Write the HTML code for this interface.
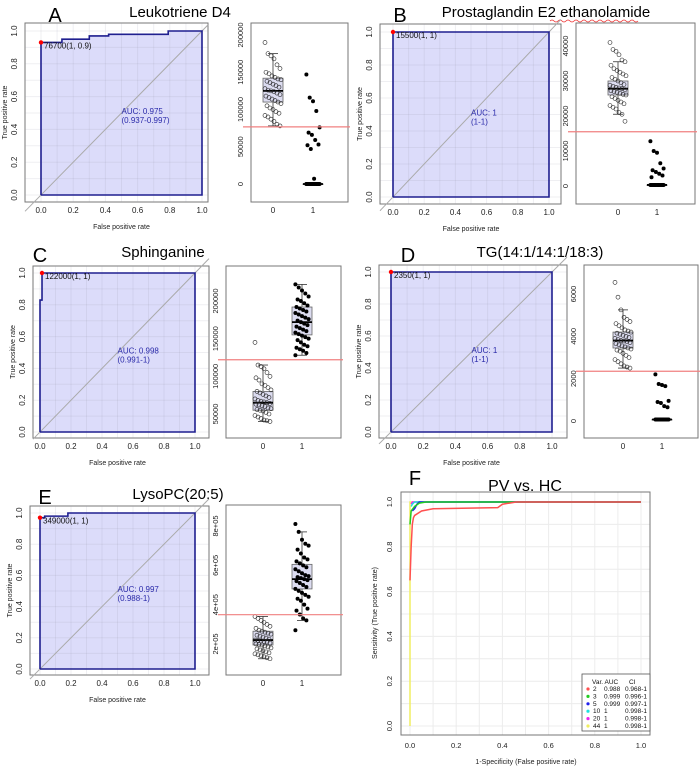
<!DOCTYPE html>
<html><head><meta charset="utf-8"><style>
body{margin:0;background:#fff;width:700px;height:767px;overflow:hidden}
svg{display:block;font-family:"Liberation Sans",sans-serif}
</style></head><body>
<svg id="fig" width="700" height="767"></svg>
<script>
// ---- ROC data ----
const rocA_fpr=[0,0,0.13,0.13,0.3,0.3,0.42,0.42,0.79,0.79,1];
const rocA_tpr=[0,0.93,0.93,0.95,0.95,0.97,0.97,0.98,0.98,1,1];
const rocB_fpr=[0,0,1];const rocB_tpr=[0,1,1];
const rocC_fpr=[0,0,0.013,0.013,1];const rocC_tpr=[0,0.83,0.83,1,1];
const rocD_fpr=[0,0,1];const rocD_tpr=[0,1,1];
const rocE_fpr=[0,0,0.03,0.03,0.18,0.18,1];const rocE_tpr=[0,0.97,0.97,0.98,0.98,1,1];
const bestPoints=[[0,0.93],[0,1],[0.013,1],[0,1],[0,0.97]];
const bestLabels=["76700(1, 0.9)","15500(1, 1)","122000(1, 1)","2350(1, 1)","349000(1, 1)"];
const aucLabels=[["AUC: 0.975","(0.937-0.997)"],["AUC: 1","(1-1)"],["AUC: 0.998","(0.991-1)"],["AUC: 1","(1-1)"],["AUC: 0.997","(0.988-1)"]];
const rocTicks=[0,0.2,0.4,0.6,0.8,1.0];
// ---- Box data ----
const boxA_g0=[190000,175000,172000,168000,160000,155000,150000,148000,145000,143000,141000,140000,138000,136000,134000,132000,130000,128000,126000,125000,124000,122000,120000,118000,116000,114000,112000,110000,108000,105000,102000,100000,97000,95000,92000,90000,87000,84000,80000,78000];
const boxA_g1=[147000,116000,111000,98000,76000,69000,66000,59000,53000,52000,47000,7000,0,0,0,0,0,0,0,0,0,0,0,0,0,0,0];
const boxB_g0=[41000,39000,38500,37500,36000,35500,34500,33500,33000,32500,32000,31500,31000,30500,30000,29500,29000,28800,28500,28200,28000,27800,27500,27200,27000,26800,26500,26200,26000,25500,25000,24500,24000,23500,23000,22500,22000,21000,20500,18500];
const boxB_g1=[12800,10000,9500,6500,5000,4500,4000,3500,3000,2500,300,300,300,300,300,300,300,300,300,300,300,300,300,300,300];
const boxC_g0=[145000,115000,113000,110000,105000,100000,98000,95000,90000,88000,85000,82000,80000,78000,76000,74000,72000,70000,68000,67000,66000,65000,64000,63000,62000,61000,60000,58000,57000,56000,55000,54000,52000,50000,48000,46000,44000,42000,41000,40000];
const boxC_g1=[222000,218000,214000,210000,206000,202000,200000,197000,194000,192000,190000,188000,186000,184000,182000,180000,178000,176000,174000,172000,170000,168000,166000,164000,162000,160000,158000,156000,154000,152000,150000,148000,145000,142000,140000,138000,136000,134000,131000,128000];
const boxD_g0=[6550,5850,5250,4900,4800,4700,4600,4500,4400,4300,4250,4200,4150,4100,4050,4000,3950,3900,3850,3800,3780,3750,3700,3650,3600,3550,3500,3450,3400,3350,3300,3200,3100,3000,2900,2800,2700,2600,2550,2500];
const boxD_g1=[2200,1750,1700,1650,950,900,850,700,650,70,70,70,70,70,70,70,70,70,70,70,70,70,70,70,70];
const boxE_g0=[340000,330000,320000,310000,300000,290000,280000,270000,265000,260000,255000,250000,245000,240000,235000,230000,225000,220000,218000,215000,212000,210000,205000,200000,198000,195000,190000,185000,180000,175000,170000,165000,160000,155000,150000,145000,140000,135000,130000,125000];
const boxE_g1=[810000,770000,730000,710000,700000,680000,660000,640000,630000,620000,610000,600000,590000,580000,570000,560000,550000,545000,540000,535000,530000,525000,520000,510000,500000,490000,480000,470000,460000,450000,440000,430000,420000,400000,380000,370000,350000,330000,320000,270000];
// stats: [lo,q1,med,q3,hi]
const statsA=[[78000,110000,125000,142000,175000],[0,0,0,0,0]];
const statsB=[[20500,26000,27800,30000,35500],[300,300,300,300,300]];
const statsC=[[40000,55000,65000,80000,115000],[128000,155000,172000,192000,222000]];
const statsD=[[2500,3450,3800,4200,5250],[70,70,70,70,70]];
const statsE=[[125000,195000,220000,265000,340000],[320000,480000,530000,605000,770000]];
const thresholds=[76700,15500,122000,2350,349000];
const ticksA=[0,50000,100000,150000,200000];
const ticksB=[0,10000,20000,30000,40000];
const ticksC=[50000,100000,150000,200000];
const ticksD=[0,2000,4000,6000];
const ticksE=[200000,400000,600000,800000];
const tickLabE=["2e+05","4e+05","6e+05","8e+05"];
const titles=["Leukotriene D4","Prostaglandin E2 ethanolamide","Sphinganine","TG(14:1/14:1/18:3)","LysoPC(20:5)"];
const letters=["A","B","C","D","E"];
// ---- PV vs HC ----
const fVars=["2","3","5","10","20","44"];
const fAUC=["0.988","0.999","0.999","1","1","1"];
const fCI=["0.968-1","0.996-1","0.997-1","0.998-1","0.998-1","0.998-1"];
const fColors=["#ff5050","#22cc22","#2020ee","#22e0e0","#ee22ee","#f0ee60"];
const fX=[[0,0.005,0.01,0.015,0.02,0.05,0.1,0.38,0.4,0.46,1],[0,0.005,0.02,0.04,0.07,1],[0.01,0.02,0.03,0.04,1],[0.005,0.01,0.02,1],[0.005,0.01,0.015,1],[0,0,1]];
const fY=[[0.65,0.8,0.9,0.93,0.94,0.96,0.97,0.975,0.99,1,1],[0.9,0.96,0.98,0.995,1,1],[0.96,0.97,0.99,1,1],[0.98,0.99,1,1],[0.99,1,1,1],[0,1,1]];
const fTicks=[0,0.2,0.4,0.6,0.8,1.0];

const NS="http://www.w3.org/2000/svg";const svg=document.getElementById('fig');
function mk(tag,at,parent,txt){const e=document.createElementNS(NS,tag);for(const k in at)e.setAttribute(k,at[k]);if(txt!==undefined)e.textContent=txt;(parent||svg).appendChild(e);return e;}
function lin(d0,d1,r0,r1){return v=>r0+(v-d0)/(d1-d0)*(r1-r0);}

const rocL=[
 {L:25,T:23,R:208,B:202,x0:41,x1:202,y0:195,y1:31},
 {L:380,T:24,R:561,B:204,x0:393,x1:549,y0:197,y1:32},
 {L:33,T:266,R:209,B:438,x0:40,x1:195,y0:432,y1:273},
 {L:379,T:265,R:567,B:438,x0:391,x1:552,y0:432,y1:272},
 {L:30,T:506,R:209,B:675,x0:40,x1:195,y0:669,y1:513}];
const boxL=[
 {L:251,T:23,R:348,B:202,c0:273,c1:313,d0:0,p0:184,d1:200000,p1:35},
 {L:576,T:23,R:695,B:204,c0:618,c1:657,d0:0,p0:186,d1:40000,p1:46},
 {L:226,T:266,R:341,B:438,c0:263,c1:302,d0:50000,p0:414,d1:200000,p1:301},
 {L:584,T:265,R:698,B:438,c0:623,c1:662,d0:0,p0:421,d1:6000,p1:294},
 {L:226,T:505,R:341,B:675,c0:263,c1:302,d0:200000,p0:644,d1:800000,p1:526}];
const titleL=[{lx:55,ty:12,tx:180},{lx:400,ty:12,tx:546},{lx:40,ty:252,tx:163},{lx:408,ty:252,tx:540},{lx:45,ty:494,tx:178}];
const rocs=[[rocA_fpr,rocA_tpr],[rocB_fpr,rocB_tpr],[rocC_fpr,rocC_tpr],[rocD_fpr,rocD_tpr],[rocE_fpr,rocE_tpr]];
const boxes=[[boxA_g0,boxA_g1,statsA,ticksA,null],[boxB_g0,boxB_g1,statsB,ticksB,null],[boxC_g0,boxC_g1,statsC,ticksC,null],[boxD_g0,boxD_g1,statsD,ticksD,null],[boxE_g0,boxE_g1,statsE,ticksE,tickLabE]];

for(let p=0;p<5;p++){
 const g=mk('g',{});
 const t=titleL[p];
 const le=mk('text',{x:t.lx,y:t.ty+10,'font-size':20,'text-anchor':'middle',fill:'#000','font-family':'Liberation Sans'},g,letters[p]);
 
 const ti=mk('text',{x:t.tx,y:t.ty+5,'font-size':15,'text-anchor':'middle',fill:'#000'},g,titles[p]);
 
 if(p===1){const u=mk('path',{d:'M'+(t.tx+4)+','+(t.ty+9)+' q2,-2 4,0 t4,0 t4,0 t4,0 t4,0 t4,0 t4,0 t4,0 t4,0 t4,0 t4,0 t4,0 t4,0 t4,0 t4,0 t4,0 t4,0 t4,0 t4,0 t4,0 t4,0 t4,0',stroke:'#e33',fill:'none','stroke-width':0.8},g);}
 const r=rocL[p];const X=lin(0,1,r.x0,r.x1),Y=lin(0,1,r.y0,r.y1);
 const fr=mk('rect',{x:r.L,y:r.T,width:r.R-r.L,height:r.B-r.T,fill:'#fff',stroke:'#777','stroke-width':1},g);
 const fx=rocs[p][0],fy=rocs[p][1];
 let pts=fx.map((v,i)=>X(v)+','+Y(fy[i])).join(' ')+' '+X(1)+','+Y(0);
 const fill=mk('polygon',{points:pts,fill:'#dcdcfa'},g);
 for(let k=-0.1;k<=1.1;k+=0.1){const gx=X(k),gy=Y(k);
  if(gx>r.L&&gx<r.R){const l=mk('line',{x1:gx,x2:gx,y1:r.T,y2:r.B,stroke:'rgba(150,150,170,0.15)','stroke-width':1},g);}
  if(gy>r.T&&gy<r.B){const l=mk('line',{x1:r.L,x2:r.R,y1:gy,y2:gy,stroke:'rgba(150,150,170,0.15)','stroke-width':1},g);}}
 const dx1=Math.max(r.L,X(-0.1)),dx2=Math.min(r.R,X(1.1));
 const dg=mk('line',{x1:dx1,y1:Y((dx1-r.x0)/(r.x1-r.x0)),x2:dx2,y2:Y((dx2-r.x0)/(r.x1-r.x0)),stroke:'#aaa','stroke-width':1},g);
 
 const cv=mk('polyline',{points:fx.map((v,i)=>X(v)+','+Y(fy[i])).join(' ')+' '+X(1)+','+Y(0)+' '+X(0)+','+Y(0),fill:'none',stroke:'#1f1f8f','stroke-width':1.6},g);
 
 const bp=bestPoints[p];const dot=mk('circle',{cx:X(bp[0]),cy:Y(bp[1]),r:2.2,fill:'#f00'},g);
 const bl=mk('text',{x:X(bp[0])+3,y:Y(bp[1])+6,'font-size':8,fill:'#111'},g,bestLabels[p]);
 const a1=mk('text',{x:X(0.5),y:Y(0.5)+1,'font-size':8,fill:'#2a2aaa'},g,aucLabels[p][0]);
 const a2=mk('text',{x:X(0.5),y:Y(0.5)+10,'font-size':8,fill:'#2a2aaa'},g,aucLabels[p][1]);
 rocTicks.forEach(v=>{
  const tx=mk('text',{x:X(v),y:r.B+11,'font-size':8,'text-anchor':'middle',fill:'#222'},g,v.toFixed(1));
  const ty=mk('text',{x:0,y:0,'font-size':8,'text-anchor':'middle',fill:'#222',transform:'translate('+(r.L-8)+','+Y(v)+') rotate(-90)'},g,v.toFixed(1));
 });
 const xt=mk('text',{x:(r.x0+r.x1)/2,y:r.B+27,'font-size':7,'text-anchor':'middle',fill:'#222'},g,'False positive rate');
 const yt=mk('text',{x:0,y:0,'font-size':7,'text-anchor':'middle',fill:'#222',transform:'translate('+(r.L-18)+','+((r.T+r.B)/2)+') rotate(-90)'},g,'True positive rate');
 const b=boxL[p];const BY=lin(b.d0,b.d1,b.p0,b.p1);const [g0,g1,st,tk,tl]=boxes[p];
 const bf=mk('rect',{x:b.L,y:b.T,width:b.R-b.L,height:b.B-b.T,fill:'#fff',stroke:'#777','stroke-width':1},g);
 [b.c0,b.c1].forEach((cx,gi)=>{const s=st[gi];
  const w1=mk('line',{x1:cx,x2:cx,y1:BY(s[0]),y2:BY(s[4]),stroke:'#333','stroke-width':0.8},g);
  [s[0],s[4]].forEach(v=>{const c=mk('line',{x1:cx-5,x2:cx+5,y1:BY(v),y2:BY(v),stroke:'#333','stroke-width':0.8},g);});
  const bx=mk('rect',{x:cx-10,y:BY(s[3]),width:20,height:Math.max(0.5,BY(s[1])-BY(s[3])),fill:'#dcdcf0',stroke:'#666','stroke-width':0.8},g);
  const md=mk('line',{x1:cx-10,x2:cx+10,y1:BY(s[2]),y2:BY(s[2]),stroke:'#000','stroke-width':1.8},g);
  const tx=mk('text',{x:cx,y:b.B+11,'font-size':8,'text-anchor':'middle',fill:'#222'},g,String(gi));
 });
 g0.forEach((v,i)=>{const j=((i*37)%17-8)*1.0;const c=mk('circle',{cx:b.c0+j,cy:BY(v),r:2,fill:'none',stroke:'#222','stroke-width':0.6},g);});
 g1.forEach((v,i)=>{const j=((i*29)%13-6)*1.1;const c=mk('circle',{cx:b.c1+j,cy:BY(v),r:2,fill:'#000'},g);});
 const th=mk('line',{x1:b.L-8,x2:b.R+2,y1:BY(thresholds[p]),y2:BY(thresholds[p]),stroke:'#f08080','stroke-width':1.2},g);
 tk.forEach((v,i)=>{const lab=tl?tl[i]:String(v);const ty=mk('text',{x:0,y:0,'font-size':7.5,'text-anchor':'middle',fill:'#222',transform:'translate('+(b.L-8)+','+BY(v)+') rotate(-90)'},g,lab);});
}
(function(){
 const g=mk('g',{});
 const L=401,T=492,R=650,B=735;const X=lin(0,1,410,641),Y=lin(0,1,726,502);
 const le=mk('text',{x:415,y:485,'font-size':20,'text-anchor':'middle',fill:'#000'},g,'F');
 const ti=mk('text',{x:525,y:491,'font-size':16,'text-anchor':'middle',fill:'#000'},g,'PV vs. HC');
 for(let k=0;k<=1.01;k+=0.1){const gx=X(k),gy=Y(k);
  const l1=mk('line',{x1:gx,x2:gx,y1:T,y2:B,stroke:'#ececec','stroke-width':1},g);
  const l2=mk('line',{x1:L,x2:R,y1:gy,y2:gy,stroke:'#ececec','stroke-width':1},g);}
 const fr=mk('rect',{x:L,y:T,width:R-L,height:B-T,fill:'none',stroke:'#777','stroke-width':1},g);
 for(let s=fX.length-1;s>=0;s--){const pl=mk('polyline',{points:fX[s].map((v,i)=>X(v)+','+Y(fY[s][i])).join(' '),fill:'none',stroke:fColors[s],'stroke-width':1.5},g);}
 fTicks.forEach(v=>{
  const tx=mk('text',{x:X(v),y:748,'font-size':7.5,'text-anchor':'middle',fill:'#222'},g,v.toFixed(1));
  const ty=mk('text',{x:0,y:0,'font-size':7.5,'text-anchor':'middle',fill:'#222',transform:'translate(392,'+Y(v)+') rotate(-90)'},g,v.toFixed(1));});
 const xt=mk('text',{x:526,y:764,'font-size':7,'text-anchor':'middle',fill:'#222'},g,'1-Specificity (False positive rate)');
 const yt=mk('text',{x:0,y:0,'font-size':7,'text-anchor':'middle',fill:'#222',transform:'translate(377,613) rotate(-90)'},g,'Sensitivity (True positive rate)');
 const lg=mk('g',{},g);
 mk('rect',{x:582,y:674,width:68,height:57,fill:'#fff',stroke:'#555','stroke-width':0.8},lg);
 mk('text',{x:592,y:684,'font-size':6.5,fill:'#111'},lg,'Var. AUC');mk('text',{x:629,y:684,'font-size':6.5,fill:'#111'},lg,'CI');
 fVars.forEach((v,i)=>{const y=691+i*7.4;
  const e=mk('g',{},lg);
  mk('circle',{cx:588,cy:y-2,r:1.6,fill:fColors[i]},e);
  mk('text',{x:593,y:y,'font-size':6.5,fill:'#111'},e,v);mk('text',{x:604,y:y,'font-size':6.5,fill:'#111'},e,fAUC[i]);mk('text',{x:625,y:y,'font-size':6.5,fill:'#111'},e,fCI[i]);});
})();
</script>
</body></html>
